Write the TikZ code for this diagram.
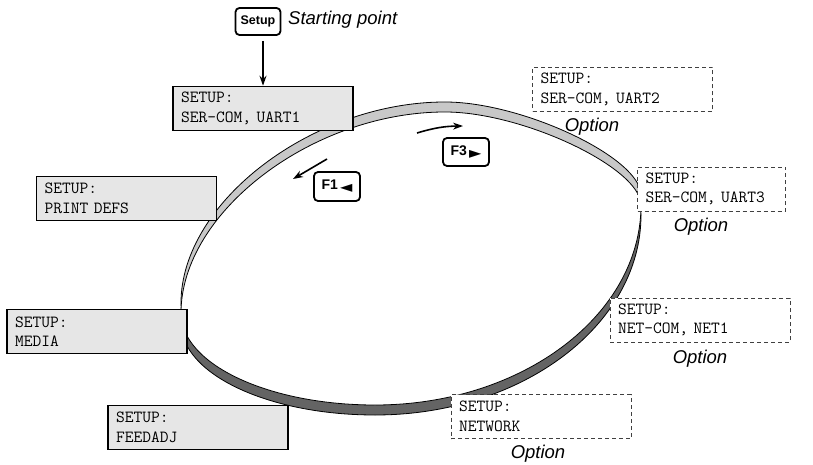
\documentclass[tikz,border=0pt]{standalone}
\usepackage{fontspec}
\setmainfont{Liberation Sans}
\newfontfamily\symfont{DejaVu Sans}
\usepackage{tikz}
\usetikzlibrary{arrows.meta,positioning,calc}
\definecolor{lcdgray}{RGB}{230,230,230}
\definecolor{bandlight}{RGB}{200,200,200}
\definecolor{banddark}{RGB}{100,100,100}

\begin{document}
\begin{tikzpicture}[x=1pt, y=-1pt,
  lcd/.style={draw=black, line width=1.6pt, fill=lcdgray, minimum width=180pt, minimum height=44pt, text width=164pt, inner xsep=8pt, align=left, font=\ttfamily\fontsize{17}{19.5}\selectfont},
  opt/.style={lcd, draw=black!75, line width=0.9pt, dash pattern=on 4pt off 3pt, fill=white},
  key/.style={draw=black, line width=1.8pt, rounded corners=4pt, fill=white, minimum width=46pt, minimum height=28pt, inner sep=2pt},
  note/.style={font=\itshape\fontsize{18.5}{21}\selectfont, inner sep=1pt},
  arr/.style={-{Stealth[length=10pt,width=7pt]}, line width=1.6pt},
  band/.style={draw=black, line width=0.8pt},
  ring/.style={insert path={(181,313) .. controls (181,212) and (313,112) .. (445,112) .. controls (523,112) and (641,168) .. (641,205) .. controls (641,315) and (522,405) .. (375,405) .. controls (268,405) and (181,364) .. cycle}},
]
\useasboundingbox (0,0) rectangle (813,465);

\draw[band, fill=bandlight, yshift=10pt] [ring];
\draw[band, fill=banddark, yshift=-10pt] [ring];
\draw[band, fill=white] [ring];

\node[key, minimum width=45pt, minimum height=27pt] (setupkey) at (258,21.5) {\fontsize{12.5}{12.5}\selectfont\bfseries Setup};
\node[note, anchor=west] (start) at (287,20) {Starting point};

\node[lcd] (uart1) at (263,108.5) {SETUP:\\SER-COM, UART1};
\node[lcd] (prdefs) at (126.5,198.5) {SETUP:\\PRINT DEFS};
\node[lcd] (media) at (97,331.5) {SETUP:\\MEDIA};
\node[lcd] (feed) at (198,427.5) {SETUP:\\FEEDADJ};

\node[opt] (uart2) at (622.5,89.5) {SETUP:\\SER-COM, UART2};
\node[opt, minimum width=148pt, text width=132pt] (uart3) at (711.5,189) {SETUP:\\SER-COM, UART3};
\node[opt] (net1) at (700,320) {SETUP:\\NET-COM, NET1};
\node[opt, minimum width=178pt] (network) at (541,416.5) {SETUP:\\NETWORK};

\node[note] (opt2) at (592,127) {Option};
\node[note] (opt3) at (701,227) {Option};
\node[note] (opt4) at (700,359) {Option};
\node[note] (opt5) at (538,454) {Option};

\node[key] (fthree) at (466,152) {\fontsize{14}{14}\selectfont\bfseries\raisebox{3pt}{F3}\,{\symfont\fontsize{16}{16}\selectfont ►}};
\node[key, minimum height=29pt] (fone) at (337,186.5) {\fontsize{14}{14}\selectfont\bfseries\raisebox{3pt}{F1}\,{\symfont\fontsize{16}{16}\selectfont ◄}};

\coordinate (f3from) at (417,133);
\coordinate (f3to) at (463,126);
\coordinate (f1from) at (327,159);
\coordinate (f1to) at (293,179);

\draw[arr] ([yshift=-5pt]setupkey.south -| uart1.north) -- (uart1.north);
\draw[arr] (f3from) to[bend left=8] (f3to);
\draw[arr] (f1from) -- (f1to);

\end{tikzpicture}
\end{document}
